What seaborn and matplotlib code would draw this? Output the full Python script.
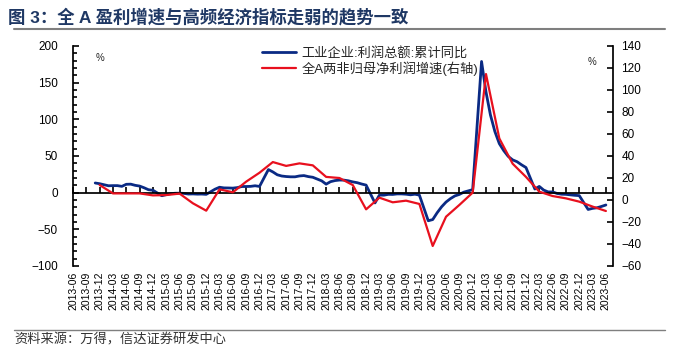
import numpy as np
import pandas as pd
import matplotlib
matplotlib.use("Agg")
import matplotlib.pyplot as plt
import seaborn as sns
from matplotlib.ticker import MultipleLocator, FixedLocator
from matplotlib.lines import Line2D

sns.set_theme(style="white")
plt.rcParams['font.family'] = ['Liberation Sans', 'Noto Sans CJK SC', 'DejaVu Sans']
plt.rcParams['xtick.bottom'] = True
plt.rcParams['ytick.left'] = True

# ---------------- data ----------------
# 工业企业:利润总额:累计同比 (monthly, %)
ind_dates = [
    "2013-11", "2013-12",
    "2014-02", "2014-03", "2014-04", "2014-05", "2014-06", "2014-07", "2014-08", "2014-09", "2014-10", "2014-11", "2014-12",
    "2015-02", "2015-03", "2015-04", "2015-05", "2015-06", "2015-07", "2015-08", "2015-09", "2015-10", "2015-11", "2015-12",
    "2016-02", "2016-03", "2016-04", "2016-05", "2016-06", "2016-07", "2016-08", "2016-09", "2016-10", "2016-11", "2016-12",
    "2017-02", "2017-03", "2017-04", "2017-05", "2017-06", "2017-07", "2017-08", "2017-09", "2017-10", "2017-11", "2017-12",
    "2018-02", "2018-03", "2018-04", "2018-05", "2018-06", "2018-07", "2018-08", "2018-09", "2018-10", "2018-11", "2018-12",
    "2019-02", "2019-03", "2019-04", "2019-05", "2019-06", "2019-07", "2019-08", "2019-09", "2019-10", "2019-11", "2019-12",
    "2020-02", "2020-03", "2020-04", "2020-05", "2020-06", "2020-07", "2020-08", "2020-09", "2020-10", "2020-11", "2020-12",
    "2021-02", "2021-03", "2021-04", "2021-05", "2021-06", "2021-07", "2021-08", "2021-09", "2021-10", "2021-11", "2021-12",
    "2022-02", "2022-03", "2022-04", "2022-05", "2022-06", "2022-07", "2022-08", "2022-09", "2022-10", "2022-11", "2022-12",
    "2023-02", "2023-03", "2023-04", "2023-05", "2023-06",
]
ind_values = [
    13.2, 12.2,
    9.4, 9.6, 9.6, 8.6, 11.4, 11.6, 10.0, 9.0, 6.7, 4.0, 3.3,
    -4.2, -2.7, -1.3, -0.8, -0.7, -1.0, -1.9, -1.7, -2.0, -1.9, -2.3,
    4.8, 7.4, 6.5, 6.4, 6.2, 6.9, 8.4, 8.4, 8.6, 9.4, 8.5,
    31.5, 28.3, 24.4, 22.7, 22.0, 21.6, 21.6, 22.8, 23.3, 21.9, 21.0,
    16.1, 11.6, 15.0, 16.5, 17.2, 17.1, 16.2, 14.7, 13.6, 11.8, 10.3,
    -14.0, -3.3, -3.4, -2.3, -2.4, -1.7, -1.7, -2.1, -2.9, -2.1, -3.3,
    -38.3, -36.7, -27.4, -19.3, -12.8, -8.1, -4.4, -2.4, 0.7, 2.4, 4.1,
    178.9, 137.3, 106.0, 83.4, 66.9, 57.3, 49.5, 44.7, 42.2, 38.0, 34.3,
    5.0, 8.5, 3.5, 1.0, 1.0, -1.1, -2.1, -2.3, -3.0, -3.6, -4.0,
    -22.9, -21.4, -20.6, -18.8, -16.8,
]

# 全A两非归母净利润增速 (quarterly, %, right axis)
a_dates = [
    "2013-12",
    "2014-03", "2014-06", "2014-09", "2014-12",
    "2015-03", "2015-06", "2015-09", "2015-12",
    "2016-03", "2016-06", "2016-09", "2016-12",
    "2017-03", "2017-06", "2017-09", "2017-12",
    "2018-03", "2018-06", "2018-09", "2018-12",
    "2019-03", "2019-06", "2019-09", "2019-12",
    "2020-03", "2020-06", "2020-09", "2020-12",
    "2021-03", "2021-06", "2021-09", "2021-12",
    "2022-03", "2022-06", "2022-09", "2022-12",
    "2023-03", "2023-06",
]
a_values = [
    13.6,
    6.0, 6.0, 6.0, 4.2,
    4.5, 5.8, -3.0, -9.7,
    9.7, 7.0, 16.7, 24.8,
    34.5, 31.0, 33.3, 31.5,
    21.0, 20.0, 13.6, -8.5,
    2.1, -2.1, -0.6, -3.6,
    -41.8, -15.2, -4.5, 6.7,
    114.5, 56.0, 33.0, 21.0,
    7.6, 3.6, 1.5, -1.5,
    -6.0, -10.0,
]

tick_labels = [
    "2013-06", "2013-09", "2013-12",
    "2014-03", "2014-06", "2014-09", "2014-12",
    "2015-03", "2015-06", "2015-09", "2015-12",
    "2016-03", "2016-06", "2016-09", "2016-12",
    "2017-03", "2017-06", "2017-09", "2017-12",
    "2018-03", "2018-06", "2018-09", "2018-12",
    "2019-03", "2019-06", "2019-09", "2019-12",
    "2020-03", "2020-06", "2020-09", "2020-12",
    "2021-03", "2021-06", "2021-09", "2021-12",
    "2022-03", "2022-06", "2022-09", "2022-12",
    "2023-03", "2023-06",
]

label_ind = "工业企业:利润总额:累计同比"
label_a = "全A两非归母净利润增速(右轴)"

# ---------------- helpers ----------------
BASE_Y, BASE_M = 2013, 6


def month_index(s):
    y, m = s.split("-")
    return (int(y) - BASE_Y) * 12 + (int(m) - BASE_M)


df_ind = pd.DataFrame({"x": [month_index(d) for d in ind_dates], "y": ind_values})
df_a = pd.DataFrame({"x": [month_index(d) for d in a_dates], "y": a_values})
tick_pos = [month_index(t) for t in tick_labels]

BLUE = "#0A2A84"
RED = "#E8101E"

# ---------------- figure ----------------
W, H = 673, 357
fig = plt.figure(figsize=(W / 100, H / 100), dpi=100)
fig.patch.set_facecolor("white")

ax_l, ax_r, ax_t, ax_b = 73, 613, 46, 266
ax = fig.add_axes([ax_l / W, 1 - ax_b / H, (ax_r - ax_l) / W, (ax_b - ax_t) / H])
ax.set_facecolor("white")
ax2 = ax.twinx()

sns.lineplot(data=df_ind, x="x", y="y", ax=ax, color=BLUE, linewidth=2.0, sort=False,
             label=label_ind, legend=False)
sns.lineplot(data=df_a, x="x", y="y", ax=ax2, color=RED, linewidth=1.6, sort=False,
             label=label_a, legend=False)

ax.set_xlim(0, 121.6)
ax.set_ylim(-100, 200)
ax2.set_ylim(-60, 140)
ax.set_xlabel("")
ax.set_ylabel("")
ax2.set_ylabel("")

for a in (ax, ax2):
    a.spines["top"].set_visible(False)
ax2.spines["bottom"].set_visible(False)
ax2.spines["left"].set_visible(False)
ax.spines["right"].set_visible(False)
ax.spines["bottom"].set_position(("data", 0))
for s in (ax.spines["left"], ax.spines["bottom"], ax2.spines["right"]):
    s.set_color("black")

ax.xaxis.set_major_locator(FixedLocator(tick_pos))
ax.set_xticklabels(tick_labels, rotation=90, fontsize=7.5)
ax.tick_params(axis="x", which="major", direction="in", length=4, width=1.2,
               color="black", pad=57, bottom=True, top=False, labelcolor="black")

ax.yaxis.set_major_locator(MultipleLocator(50))
ax.yaxis.set_minor_locator(MultipleLocator(10))
ax.tick_params(axis="y", which="major", direction="in", length=4.5, width=1.2, color="black",
               labelsize=8.5, pad=11, left=True, right=False, labelcolor="black")
ax.tick_params(axis="y", which="minor", direction="in", length=3, width=1.2, color="black",
               left=True, right=False)

ax2.yaxis.set_major_locator(MultipleLocator(20))
ax2.tick_params(axis="y", which="major", direction="in", length=4.5, width=1.2, color="black",
                labelsize=8.5, pad=6, right=True, left=False, labelcolor="black")

ax.grid(False)
ax2.grid(False)

# % markers
ax.text((100 - ax_l) / (ax_r - ax_l), 1 - (58 - ax_t) / (ax_b - ax_t), "%",
        transform=ax.transAxes, fontsize=7, ha="center", va="center")
ax.text((592 - ax_l) / (ax_r - ax_l), 1 - (62 - ax_t) / (ax_b - ax_t), "%",
        transform=ax.transAxes, fontsize=7, ha="center", va="center")

# legend
h1, l1 = ax.get_legend_handles_labels()
h2, l2 = ax2.get_legend_handles_labels()
leg = ax2.legend(h1 + h2, l1 + l2, loc="upper left",
                 bbox_to_anchor=((262 - ax_l) / (ax_r - ax_l), 1 - (47 - ax_t) / (ax_b - ax_t)),
                 frameon=False, fontsize=9.5, handlelength=2.6, handletextpad=0.4,
                 labelspacing=0.1, borderpad=0, borderaxespad=0)

# title, rules and source
fig.text(8 / W, 1 - 17 / H, "图 3：全 A 盈利增速与高频经济指标走弱的趋势一致",
         fontsize=12.5, fontweight="bold", color="#1F3864", ha="left", va="center")
fig.add_artist(Line2D([14 / W, 665 / W], [1 - 29 / H, 1 - 29 / H], color="#7F7F7F", lw=1.5))
fig.add_artist(Line2D([14 / W, 665 / W], [1 - 330 / H, 1 - 330 / H], color="#7F7F7F", lw=1.0))
fig.text(14 / W, 1 - 340 / H, "资料来源：万得，信达证券研发中心",
         fontsize=9.5, color="#333333", ha="left", va="center", style="italic")

fig.savefig("out.png", dpi=100, facecolor="white")
